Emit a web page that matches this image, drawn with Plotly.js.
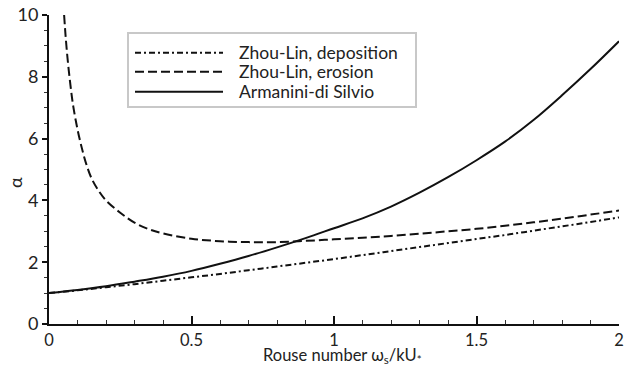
<!DOCTYPE html>
<html>
<head>
<meta charset="utf-8">
<script src="https://cdn.plot.ly/plotly-3.0.1.min.js"></script>
<style>html,body{margin:0;padding:0;background:#fff;}#chart{width:624px;height:368px;}</style>
</head>
<body>
<div id="chart"></div>
<script>
// Data
const seriesNames = ["Zhou-Lin, deposition", "Zhou-Lin, erosion", "Armanini-di Silvio"];

const xDeposition = [0,0.1,0.2,0.3,0.4,0.5,0.6,0.7,0.8,0.9,1.0,1.1,1.2,1.3,1.4,1.5,1.6,1.7,1.8,1.9,2.0];
const yDeposition = [1.00,1.09,1.19,1.29,1.40,1.51,1.62,1.74,1.86,1.98,2.10,2.23,2.36,2.49,2.62,2.75,2.88,3.02,3.16,3.30,3.45];

const xErosion = [0.053,0.058,0.065,0.075,0.085,0.10,0.115,0.13,0.15,0.175,0.2,0.25,0.3,0.35,0.4,0.5,0.6,0.7,0.8,0.9,1.0,1.1,1.2,1.3,1.4,1.5,1.6,1.7,1.8,1.9,2.0];
const yErosion = [10.0,9.35,8.6,7.75,7.05,6.3,5.7,5.2,4.7,4.3,4.0,3.6,3.28,3.07,2.93,2.76,2.68,2.65,2.65,2.69,2.74,2.79,2.85,2.92,3.00,3.08,3.18,3.29,3.41,3.54,3.67];

const xArmanini = [0,0.1,0.2,0.3,0.4,0.5,0.6,0.7,0.8,0.9,1.0,1.1,1.2,1.3,1.4,1.5,1.6,1.7,1.8,1.9,2.0];
const yArmanini = [1.00,1.10,1.22,1.37,1.53,1.72,1.95,2.20,2.48,2.78,3.10,3.42,3.80,4.25,4.75,5.30,5.90,6.60,7.40,8.25,9.15];

const xTickVals = [0,0.5,1,1.5,2];
const xTickText = ["0","0.5","1","1.5","2"];
const yTickVals = [0,2,4,6,8,10];
const yTickText = ["0","2","4","6","8","10"];

const xTitle = "Rouse number ω<sub>s</sub>/kU<sub>*</sub>";
const yTitle = "α";

const dashes = ["6px,3px,2px,3px", "9px,4px", "solid"];

const FONT = "Lato, 'Open Sans', sans-serif";

const traces = [
  {x: xDeposition, y: yDeposition, name: seriesNames[0]},
  {x: xErosion, y: yErosion, name: seriesNames[1]},
  {x: xArmanini, y: yArmanini, name: seriesNames[2]}
].map((t, i) => Object.assign(t, {
  type: "scatter", mode: "lines", line: {color: "#111", width: 2, dash: dashes[i], shape: "spline", smoothing: 1},
  showlegend: false, hoverinfo: "skip"
}));

// Custom legend (box, line samples and text) placed in paper coordinates
const W = 570, H = 309, L = 49, T = 15;
const px = v => (v - L) / W;
const py = v => (T + H - v) / H;
const legendRows = [52.7, 71.7, 91.7];

const shapes = [{
  type: "rect", xref: "paper", yref: "paper",
  x0: px(128), x1: px(416), y0: py(107), y1: py(33),
  line: {color: "#c8c8c8", width: 2}, fillcolor: "rgba(0,0,0,0)"
}];
const annotations = [];
legendRows.forEach((r, i) => {
  shapes.push({type: "line", xref: "paper", yref: "paper",
    x0: px(135), x1: px(223), y0: py(r), y1: py(r),
    line: {color: "#111", width: 2, dash: dashes[i]}});
  annotations.push({xref: "paper", yref: "paper", x: px(238), y: py(r),
    xanchor: "left", yanchor: "middle", showarrow: false, text: seriesNames[i],
    font: {family: FONT, size: 17.5, color: "#222"}, borderpad: 0});
});
// axis titles placed like the reference
annotations.push({xref: "paper", yref: "paper", x: px(15), y: py(183),
  xanchor: "center", yanchor: "middle", showarrow: false, text: yTitle, textangle: -90,
  font: {family: FONT, size: 18, color: "#222"}});
annotations.push({xref: "paper", yref: "paper", x: px(342), y: py(355),
  xanchor: "center", yanchor: "middle", showarrow: false, text: xTitle, borderpad: 0,
  font: {family: FONT, size: 16.5, color: "#222"}});

const layout = {
  width: 624, height: 368,
  margin: {l: 49, r: 5, t: 15, b: 44},
  paper_bgcolor: "#fff", plot_bgcolor: "#fff",
  font: {family: FONT, size: 17, color: "#222"},
  showlegend: false,
  xaxis: {
    range: [0, 2], tickvals: xTickVals, ticktext: xTickText,
    ticks: "inside", ticklen: 8, tickwidth: 2, tickcolor: "#111",
    minor: {dtick: 0.1, tick0: 0, ticks: "inside", ticklen: 4, tickwidth: 1, tickcolor: "#333"},
    showline: true, linecolor: "#111", linewidth: 2, showgrid: false, zeroline: false,
    tickfont: {family: FONT, size: 16.5, color: "#222"}
  },
  yaxis: {
    range: [0, 10], tickvals: yTickVals, ticktext: yTickText,
    ticks: "outside", ticklen: 5, tickwidth: 2, tickcolor: "#111",
    minor: {dtick: 0.5, tick0: 0, ticks: "outside", ticklen: 3, tickwidth: 1, tickcolor: "#333"},
    showline: true, linecolor: "#111", linewidth: 2, showgrid: false, zeroline: false,
    tickfont: {family: FONT, size: 18, color: "#222"}
  },
  shapes: shapes,
  annotations: annotations
};

Plotly.newPlot("chart", traces, layout, {displayModeBar: false, staticPlot: true});
</script>
</body>
</html>
